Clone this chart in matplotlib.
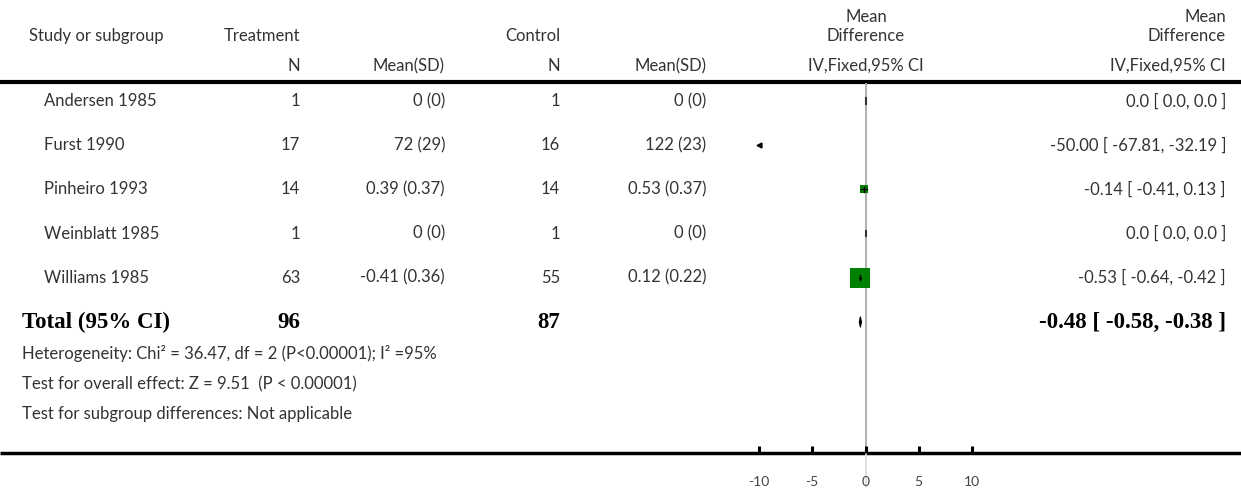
import matplotlib
matplotlib.use("Agg")
import numpy as np
import matplotlib.pyplot as plt

# study data
studies = ["Andersen 1985", "Furst 1990", "Pinheiro 1993", "Weinblatt 1985", "Williams 1985"]
n_treat = [1, 17, 14, 1, 63]
mean_treat = [0, 72, 0.39, 0, -0.41]
sd_treat = [0, 29, 0.37, 0, 0.36]
n_ctrl = [1, 16, 14, 1, 55]
mean_ctrl = [0, 122, 0.53, 0, 0.12]
sd_ctrl = [0, 23, 0.37, 0, 0.22]

md = [0.0, -50.00, -0.14, 0.0, -0.53]
md_lo = [0.0, -67.81, -0.41, 0.0, -0.64]
md_hi = [0.0, -32.19, 0.13, 0.0, -0.42]

total_n_treat = 96
total_n_ctrl = 87
total_md, total_lo, total_hi = -0.48, -0.58, -0.38

footer = [
    "Heterogeneity: Chi² = 36.47, df = 2 (P<0.00001); I² =95%",
    "Test for overall effect: Z = 9.51  (P < 0.00001)",
    "Test for subgroup differences: Not applicable",
]
xticks = [-10, -5, 0, 5, 10]

W, H = 1241, 488
FONT = "Lato"
SERIF = "Liberation Serif"
TXT = "#333333"
fs = 12

fig = plt.figure(figsize=(W / 100, H / 100), dpi=100)
ax = fig.add_axes([0, 0, 1, 1])
ax.set_xlim(0, W)
ax.set_ylim(H, 0)
ax.axis("off")

row_y = lambda i: 101 + 44.2 * i

def t(x, y, s, ha="left", **kw):
    kw.setdefault("fontsize", fs)
    kw.setdefault("family", FONT)
    kw.setdefault("color", TXT)
    ax.text(x, y, s, ha=ha, va="center", **kw)

# header
t(29, 36, "Study or subgroup")
t(300, 36, "Treatment", "right")
t(560, 36, "Control", "right")
t(866, 17, "Mean", "center")
t(866, 36, "Difference", "center")
t(1226, 17, "Mean", "right")
t(1226, 36, "Difference", "right")
t(300, 66, "N", "right")
t(445, 66, "Mean(SD)", "right")
t(560, 66, "N", "right")
t(706, 66, "Mean(SD)", "right")
t(866, 66, "IV,Fixed,95% CI", "center")
t(1226, 66, "IV,Fixed,95% CI", "right")
ax.plot([0, W], [82, 82], color="black", lw=3, solid_capstyle="butt")

# study rows
for i, name in enumerate(studies):
    y = row_y(i)
    t(44, y, name)
    t(300, y, f"{n_treat[i]}", "right")
    t(445, y, f"{mean_treat[i]:g} ({sd_treat[i]:g})", "right")
    t(560, y, f"{n_ctrl[i]}", "right")
    t(706, y, f"{mean_ctrl[i]:g} ({sd_ctrl[i]:g})", "right")
    if sd_treat[i] == 0 and sd_ctrl[i] == 0:
        lab = "0.0 [ 0.0, 0.0 ]"
    else:
        lab = f"{md[i]:.2f} [ {md_lo[i]:.2f}, {md_hi[i]:.2f} ]"
    t(1226, y, lab, "right")

# total row
yt = row_y(len(studies))
bold = dict(family=SERIF, fontweight="bold", fontsize=16.5, color="black")
t(22, yt, "Total (95% CI)", **bold)
t(300, yt, f"{total_n_treat}", "right", **bold)
t(560, yt, f"{total_n_ctrl}", "right", **bold)
t(1226, yt, f"{total_md:.2f} [ {total_lo:.2f}, {total_hi:.2f} ]", "right", **bold)

for k, line in enumerate(footer):
    t(22, 354 + 30 * k, line)

ax.plot([0, W], [452.5, 452.5], color="black", lw=2.5, solid_capstyle="butt")

# forest panel
x0, x1 = 759, 972
top, bot = 83, 452.5
fax = fig.add_axes([x0 / W, (H - bot) / H, (x1 - x0) / W, (bot - top) / H])
fax.set_xlim(-10, 10)
y_top = (top - row_y(0)) / 44.2
y_bot = (bot - row_y(0)) / 44.2
fax.set_ylim(y_bot, y_top)
fax.patch.set_alpha(0)
for s in fax.spines.values():
    s.set_visible(False)
fax.set_yticks([])
fax.set_xticks(xticks)
fax.set_xticklabels([str(v) for v in xticks], family=FONT, fontsize=10, color="#444444")
fax.tick_params(axis="x", direction="in", length=5, width=2.2, color="black", pad=17)

fax.axvline(0, color="#aaaaaa", lw=1.3, zorder=1)
fax.axvline(0, ymin=-0.1, ymax=0, color="#dddddd", lw=1.3, clip_on=False, zorder=1)

# inverse-variance weights -> square size
var = [(sd_treat[i] ** 2 / n_treat[i] + sd_ctrl[i] ** 2 / n_ctrl[i]) for i in range(len(studies))]
wts = np.array([1 / v if v > 0 else 0 for v in var])
side_px = 20 * np.sqrt(wts / wts.max())

for i in range(len(studies)):
    lo, hi = md_lo[i], md_hi[i]
    if hi < -10:
        fax.plot([-10], [i], marker="<", color="black", markersize=3.5, clip_on=False)
        continue
    if wts[i] > 0:
        fax.plot([md[i]], [i], marker="s", color="#008000", markersize=side_px[i] * 0.72,
                 markeredgewidth=0, zorder=3)
        fax.plot([lo, hi], [i, i], color="black", lw=1, zorder=4)
        fax.plot([md[i], md[i]], [i - 0.06, i + 0.06], color="black", lw=1, zorder=4)
    else:
        fax.plot([md[i], md[i]], [i - 0.06, i + 0.06], color="#333333", lw=1.5, zorder=4)

# pooled estimate diamond
it = len(studies)
dh = 0.12
fax.fill([total_lo, total_md, total_hi, total_md], [it, it - dh, it, it + dh],
         color="black", zorder=4, lw=0.8, edgecolor="black")

fig.savefig("out.png", dpi=100)
